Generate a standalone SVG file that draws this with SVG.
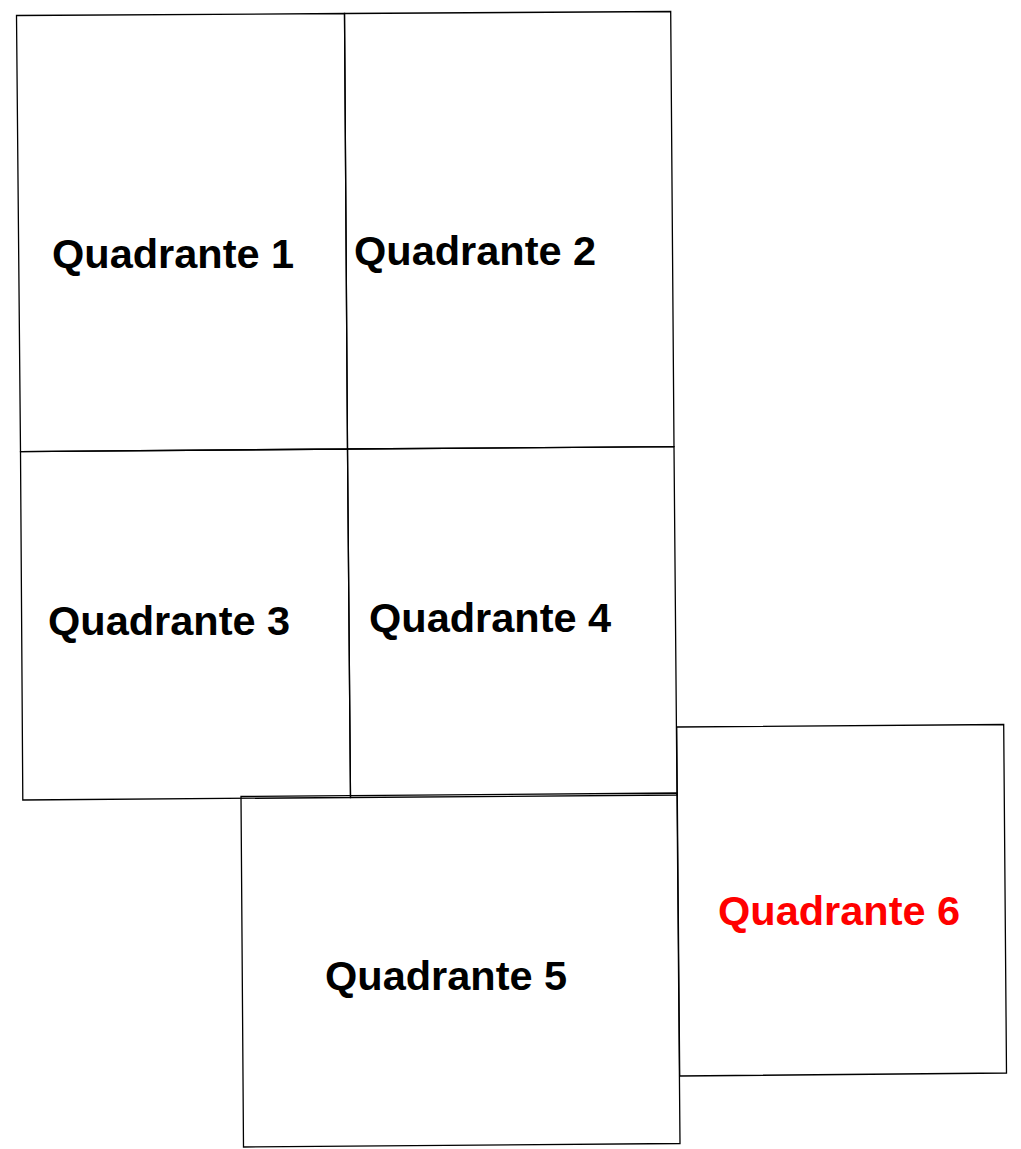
<svg xmlns="http://www.w3.org/2000/svg" width="1021" height="1149" viewBox="0 0 1021 1149">
<style>
.q{fill:none;stroke:#000;stroke-width:1.3}
.t{font-family:"Liberation Sans",Arial,sans-serif;font-weight:bold;font-size:41.5px;fill:#000}
.red{fill:#ff0000}
</style>
<rect width="1021" height="1149" fill="#fff"/>
<g id="q1"><polygon class="q" points="16.5,15.5 344.5,13.5 347.5,449 20.5,451.7"/><text class="t" x="52" y="268">Quadrante 1</text></g>
<g id="q2"><polygon class="q" points="344.5,13.5 670.7,11.5 674,446.7 347.5,449"/><text class="t" x="354" y="265">Quadrante 2</text></g>
<g id="q3"><polygon class="q" points="20.5,451.7 347.5,449 350.5,797.5 22.8,800"/><text class="t" x="48" y="635">Quadrante 3</text></g>
<g id="q4"><polygon class="q" points="347.5,449 674,446.7 677,795 350.5,797.5"/><text class="t" x="369" y="632">Quadrante 4</text></g>
<g id="q5"><polygon class="q" points="241,796.5 677,793 680,1143.5 243.5,1147"/><text class="t" x="325" y="990">Quadrante 5</text></g>
<g id="q6"><polygon class="q" points="676.7,727 1003.7,724.5 1006.5,1073 679.7,1076"/><text class="t red" x="718" y="925">Quadrante 6</text></g>
<g id="connectors"/>
</svg>
